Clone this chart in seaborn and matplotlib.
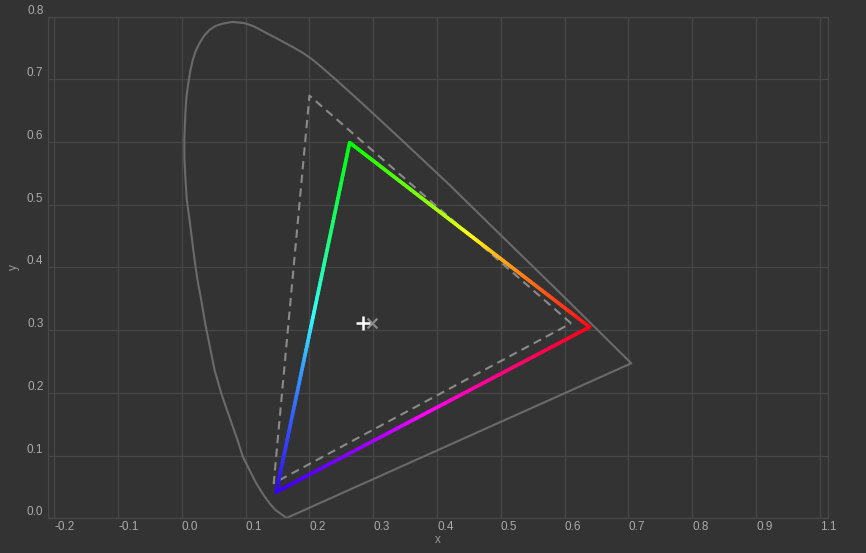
"""Chromaticity diagram: spectral locus, gamut triangle with hue gradient, reference gamut."""
import numpy as np
import matplotlib
matplotlib.use('Agg')
import matplotlib.pyplot as plt
from matplotlib.collections import LineCollection
import seaborn as sns

BG = '#333333'
GRID = '#474747'
TXT = '#aaaaaa'

sns.set_theme(style='darkgrid', rc={
    'figure.facecolor': BG, 'axes.facecolor': BG, 'savefig.facecolor': BG,
    'axes.edgecolor': GRID, 'grid.color': GRID, 'grid.linewidth': 0.9,
    'xtick.color': TXT, 'ytick.color': TXT, 'axes.labelcolor': '#999999',
    'xtick.major.size': 0, 'ytick.major.size': 0,
})
plt.rcParams['font.family'] = ['Liberation Sans', 'DejaVu Sans']

# Spectral locus, closed by the line of purples
locus_x = [0.1641, 0.1469, 0.1375, 0.1281, 0.1166, 0.1061, 0.0956, 0.0873, 0.0799,
           0.0708, 0.0618, 0.0513, 0.0450, 0.0371, 0.0304, 0.0254, 0.0215, 0.0180,
           0.0147, 0.0113, 0.0078, 0.0058, 0.0041, 0.0039, 0.0047, 0.0056, 0.0069,
           0.0086, 0.0110, 0.0136, 0.0172, 0.0218, 0.0277, 0.0348, 0.0434, 0.0528,
           0.0654, 0.0799, 0.0983, 0.1113, 0.1323, 0.1531, 0.1735, 0.1897, 0.2033,
           0.2158, 0.2420, 0.2785, 0.3412, 0.4196, 0.4980, 0.5920, 0.7044, 0.1641]
locus_y = [0.0005, 0.0132, 0.0239, 0.0372, 0.0558, 0.0770, 0.0982, 0.1249, 0.1461,
           0.1727, 0.1994, 0.2365, 0.2684, 0.3083, 0.3482, 0.3753, 0.4013, 0.4279,
           0.4550, 0.4821, 0.5077, 0.5396, 0.5715, 0.6033, 0.6246, 0.6464, 0.6671,
           0.6831, 0.6990, 0.7150, 0.7309, 0.7453, 0.7576, 0.7692, 0.7788, 0.7852,
           0.7891, 0.7915, 0.7895, 0.7852, 0.7740, 0.7629, 0.7517, 0.7421, 0.7326,
           0.7222, 0.6990, 0.6655, 0.6065, 0.5316, 0.4534, 0.3601, 0.2472, 0.0005]

# Target gamut primaries (R, G, B) and their display colours
gamut_x = [0.639, 0.263, 0.148]
gamut_y = [0.305, 0.599, 0.042]
gamut_rgb = [(1.0, 0.0, 0.04), (0.0, 1.0, 0.0), (0.12, 0.0, 1.0)]

# Reference gamut (dashed)
ref_x = [0.610, 0.200, 0.144]
ref_y = [0.311, 0.674, 0.056]

# White points
wp_target = (0.284, 0.311)
wp_ref = (0.298, 0.312)

xtick_pos = [-0.2, -0.1, 0.0, 0.1, 0.2, 0.3, 0.4, 0.5, 0.6, 0.7, 0.8, 0.9, 1.0]
xtick_lbl = ['-0.2', '-0.1', '0.0', '0.1', '0.2', '0.3', '0.4', '0.5', '0.6',
             '0.7', '0.8', '0.9', '1.1']
ytick_pos = [0.0, 0.1, 0.2, 0.3, 0.4, 0.5, 0.6, 0.7, 0.8]

fig, ax = plt.subplots(figsize=(8.66, 5.53), dpi=100)
fig.subplots_adjust(left=0.055, right=0.956, bottom=0.0627, top=0.970)

sns.lineplot(x=locus_x, y=locus_y, sort=False, estimator=None, ax=ax,
             color='#6a6a6a', linewidth=1.5)

# reference gamut triangle
rx = ref_x + ref_x[:1]
ry = ref_y + ref_y[:1]
ax.plot(rx, ry, color='#8a8a8a', linewidth=1.5, linestyle=(0, (4, 2.6)))

# gradient gamut triangle
segs, cols = [], []
for i in range(3):
    j = (i + 1) % 3
    p0 = np.array([gamut_x[i], gamut_y[i]])
    p1 = np.array([gamut_x[j], gamut_y[j]])
    c0 = np.array(gamut_rgb[i])
    c1 = np.array(gamut_rgb[j])
    n = 120
    for k in range(n):
        t0, t1 = k / n, (k + 1) / n
        segs.append([p0 + (p1 - p0) * t0, p0 + (p1 - p0) * t1])
        tm = (t0 + t1) / 2
        c = (1 - tm) * c0 + tm * c1
        c = np.clip(c / c.max(), 0, 1) ** 0.75
        cols.append(c)
lc = LineCollection(segs, colors=cols, linewidths=2.6, capstyle='round', joinstyle='round')
ax.add_collection(lc)

ax.scatter([wp_ref[0]], [wp_ref[1]], marker='x', s=50, color='#8a8a8a', linewidths=1.6, zorder=5)
ax.scatter([wp_target[0]], [wp_target[1]], marker='+', s=110, color='white', linewidths=1.8, zorder=6)

ax.set_xlim(-0.2103, 1.0125)
ax.set_ylim(0, 0.8)
ax.set_xticks(xtick_pos)
ax.set_xticklabels(xtick_lbl, ha='left', fontsize=8.5)
ax.set_yticks(ytick_pos)
ax.set_yticklabels([f'{v:.1f}' for v in ytick_pos], va='bottom', fontsize=8.5)
ax.tick_params(axis='x', pad=2)
ax.tick_params(axis='y', pad=3)
ax.set_xlabel('x', fontsize=8.5, labelpad=1)
ax.set_ylabel('y', fontsize=8.5)
ax.yaxis.set_label_coords(-0.035, 0.5)
for s in ax.spines.values():
    s.set_visible(True)
    s.set_color(GRID)
    s.set_linewidth(0.9)

fig.savefig('out.png', dpi=100)
